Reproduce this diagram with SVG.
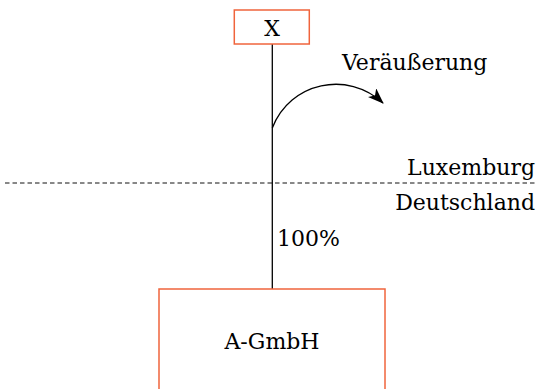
<svg xmlns="http://www.w3.org/2000/svg" width="539" height="389" viewBox="0 0 539 389">
<style>
text{font-family:"DejaVu Serif",serif;font-size:22px;fill:#000}
.box{fill:#fff;stroke:#f0643c;stroke-width:1.5}
.ln{stroke:#000;stroke-width:1.3;fill:none}
</style>
<defs>
<marker id="ah" viewBox="0 0 16 12" refX="15" refY="6" markerWidth="16" markerHeight="12" markerUnits="userSpaceOnUse" orient="auto">
<path d="M0,0 L16,6 L0,12 L4,6 Z" fill="#000"/>
</marker>
</defs>
<g id="connectors">
<line class="ln" x1="272.3" y1="44" x2="272.3" y2="289"/>
<path class="ln" d="M272.3,128 C290,82 348,70 383,103" marker-end="url(#ah)"/>
<line x1="5" y1="183" x2="535" y2="183" stroke="#111" stroke-width="1" stroke-dasharray="4.5,3"/>
</g>
<g id="X">
<rect class="box" x="234.3" y="10" width="75" height="34"/>
<text x="272" y="36" text-anchor="middle">X</text>
</g>
<g id="A-GmbH">
<rect class="box" x="159" y="289" width="226" height="110"/>
<text x="272" y="349" text-anchor="middle">A-GmbH</text>
</g>
<text x="342" y="70">Veräußerung</text>
<text x="535" y="175" text-anchor="end">Luxemburg</text>
<text x="535" y="210" text-anchor="end">Deutschland</text>
<text x="277" y="246">100%</text>
</svg>
